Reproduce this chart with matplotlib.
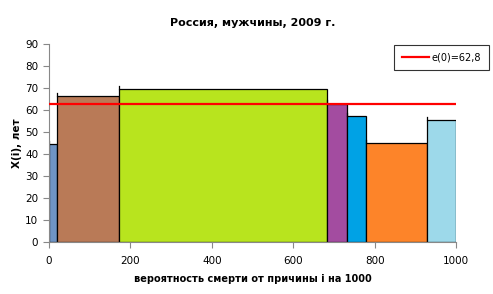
import matplotlib
matplotlib.use("Agg")
import matplotlib.pyplot as plt

# cause-of-death groups: cumulative probability per 1000 (bar edges) and X(i), years
edges = [0, 20, 172, 682, 732, 779, 928, 1000]
heights = [44.5, 66.3, 69.5, 63.0, 57.2, 44.9, 55.5]
colors = ["#6f94c4", "#b97a57", "#b8e41e", "#a34ca0", "#00a2e5", "#fd8429", "#9dd9ea"]
e0 = 62.8

plt.rcParams['font.family'] = ['DejaVu Sans']

fig = plt.figure(figsize=(4.93, 2.94), dpi=100)
ax = fig.add_axes([0.0988, 0.177, 0.8268, 0.672])

lefts = edges[:-1]
widths = [b - a for a, b in zip(edges[:-1], edges[1:])]
ax.bar(lefts, heights, width=widths, align='edge', color=colors,
       edgecolor='black', linewidth=0.9, zorder=2)
# small stubs of the left edges sticking over each bar
for x, h in zip(lefts, heights):
    ax.plot([x, x], [h, h + 1.5], color='black', linewidth=0.9, zorder=2)

ax.axhline(e0, xmin=0, xmax=1, color='#ff0000', linewidth=1.6, zorder=3,
           label='e(0)=62,8')

ax.set_xlim(0, 1000)
ax.set_ylim(0, 90)
ax.set_xticks(range(0, 1001, 200))
ax.set_yticks(range(0, 91, 10))
for s in ['top', 'right']:
    ax.spines[s].set_visible(False)
for s in ['left', 'bottom']:
    ax.spines[s].set_color('#888888')
    ax.spines[s].set_linewidth(0.8)
ax.tick_params(colors='#888888', labelcolor='black', labelsize=7.5, length=4, width=0.8)
ax.tick_params(axis='x', pad=6)

ax.set_title('Россия, мужчины, 2009 г.', fontsize=8, fontweight='bold', pad=13)
ax.set_xlabel('вероятность смерти от причины i на 1000', fontsize=7, fontweight='bold', labelpad=6)
ax.set_ylabel('X(i), лет', fontsize=7.5, fontweight='bold', labelpad=2)

leg = ax.legend(loc='upper left', bbox_to_anchor=(394.3 / 493, 1 - 45.3 / 294),
                bbox_transform=fig.transFigure, fontsize=7, frameon=True,
                fancybox=False, handlelength=2.8, borderpad=0.75, borderaxespad=0,
                handletextpad=0.3)
leg.get_frame().set_edgecolor('black')
leg.get_frame().set_linewidth(0.8)

fig.savefig('out.png', dpi=100)
